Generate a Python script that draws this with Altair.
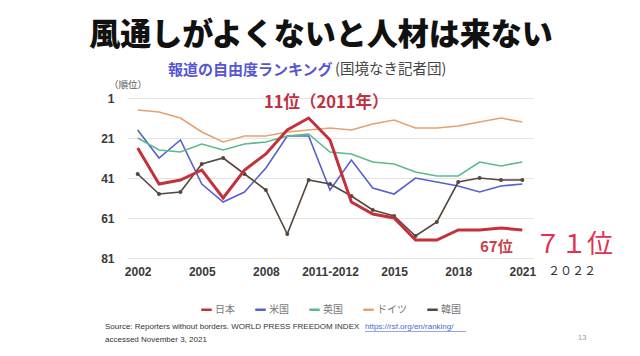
import altair as alt
import pandas as pd

years = ["2002", "2003", "2004", "2005", "2006", "2007", "2008", "2009", "2010",
         "2011-2012", "2013", "2014", "2015", "2016", "2017", "2018", "2019", "2020", "2021"]
japan = [26, 44, 42, 37, 51, 37, 29, 17, 11, 22, 53, 59, 61, 72, 72, 67, 67, 66, 67]
usa = [17, 31, 22, 44, 53, 48, 36, 20, 20, 47, 32, 46, 49, 41, 43, 45, 48, 45, 44]
uk = [21, 27, 28, 24, 27, 24, 23, 20, 19, 28, 29, 33, 34, 38, 40, 40, 33, 35, 33]
germany = [7, 8, 11, 18, 23, 20, 20, 18, 17, 16, 17, 14, 12, 16, 16, 15, 13, 11, 13]
korea = [39, 49, 48, 34, 31, 39, 47, 69, 42, 44, 50, 57, 60, 70, 63, 43, 41, 42, 42]

countries = ["日本", "米国", "英国", "ドイツ", "韓国"]
colors = ["#c4313b", "#5561cc", "#5cb98a", "#e4a271", "#54473d"]
shown_years = ["2002", "2005", "2008", "2011-2012", "2015", "2018", "2021"]
y_ticks = [1, 21, 41, 61, 81]

rows = []
for name, vals in zip(countries, [japan, usa, uk, germany, korea]):
    for i, (yr, v) in enumerate(zip(years, vals)):
        rows.append({"year": yr, "rank": v, "country": name, "idx": i})
df = pd.DataFrame(rows)

FONT = "Noto Sans CJK JP"

x_enc = alt.X("year:O", sort=years,
              scale=alt.Scale(type="point", padding=0.5),
              axis=alt.Axis(values=shown_years, title=None, labelAngle=0, ticks=False,
                            domain=False, labelPadding=8, labelFontSize=12,
                            labelFontWeight="bold", labelColor="#3a3a3a",
                            labelFont="Liberation Sans", grid=False))
y_enc = alt.Y("rank:Q",
              scale=alt.Scale(domain=[1, 81], reverse=True, nice=False, zero=False),
              axis=alt.Axis(values=y_ticks, title=None, ticks=False, domain=False,
                            labelPadding=13, labelFontSize=12, labelFontWeight="bold",
                            labelColor="#3a3a3a", labelFont="Liberation Sans",
                            grid=True, gridColor="#e4e4e4", gridWidth=1))
color_enc = alt.Color("country:N",
                      scale=alt.Scale(domain=countries, range=colors),
                      legend=alt.Legend(orient="none", legendX=73, legendY=205,
                                        direction="horizontal", columns=5, title=None,
                                        symbolType="stroke", symbolSize=110,
                                        symbolStrokeWidth=2.5, labelFontSize=10,
                                        labelColor="#777777", labelFont=FONT,
                                        columnPadding=15, labelOffset=2, padding=0))

others = alt.Chart(df[df.country != "日本"]).mark_line(strokeWidth=1.6).encode(
    x=x_enc, y=y_enc, color=color_enc, detail="country:N")
korea_pts = alt.Chart(df[df.country == "韓国"]).mark_circle(size=16, opacity=1).encode(
    x=x_enc, y=y_enc, color=alt.Color("country:N", scale=alt.Scale(domain=countries, range=colors), legend=None))
japan_line = alt.Chart(df[df.country == "日本"]).mark_line(strokeWidth=3).encode(
    x=x_enc, y=y_enc, color=color_enc)


def txt(text, x, y, size, color="#000000", weight="normal", font=FONT, align="left"):
    return alt.Chart(pd.DataFrame({"t": [text]})).mark_text(
        align=align, baseline="middle", fontSize=size, fontWeight=weight,
        color=color, font=font).encode(text="t:N", x=alt.value(x), y=alt.value(y))


texts = [
    txt("風通しがよくないと人材は来ない", 194, -62, 31, "#111111", 900, align="center"),
    txt("報道の自由度ランキング", 41, -28, 15, "#5656d4", "bold"),
    txt("(国境なき記者団)", 208, -28, 14.5, "#444444"),
    txt("（順位）", -18, -13, 9.5, "#555555"),
    txt("11位（2011年）", 137, 5, 16.5, "#c0303f", "bold"),
    txt("67位", 353, 149, 15, "#c8404a", "bold"),
    txt("７１位", 408, 147, 26, "#e3304f"),
    txt("２０２２", 421, 173, 12, "#333333"),
    txt("Source: Reporters without borders. WORLD PRESS FREEDOM INDEX", -22, 229, 8, "#333333", font="Liberation Sans"),
    txt("https://rsf.org/en/ranking/", 238, 229, 8, "#4a6bd0", font="Liberation Sans"),
    txt("accessed November 3, 2021", -22, 242, 8, "#333333", font="Liberation Sans"),
    txt("13", 451, 240, 7.5, "#999999", font="Liberation Sans"),
]

underline = alt.Chart(pd.DataFrame({"a": [0]})).mark_rule(color="#4a6bd0", strokeWidth=0.6).encode(
    x=alt.value(238), x2=alt.value(339), y=alt.value(233.5))

chart = alt.layer(others, korea_pts, japan_line, underline, *texts).properties(
    width=406, height=160,
    autosize=alt.AutoSizeParams(type="none"),
    padding={"left": 119, "top": 90, "right": 99, "bottom": 90},
    background="white",
).configure_view(stroke=None)

chart.save("out.html", embed_options={"renderer": "svg", "actions": False})
